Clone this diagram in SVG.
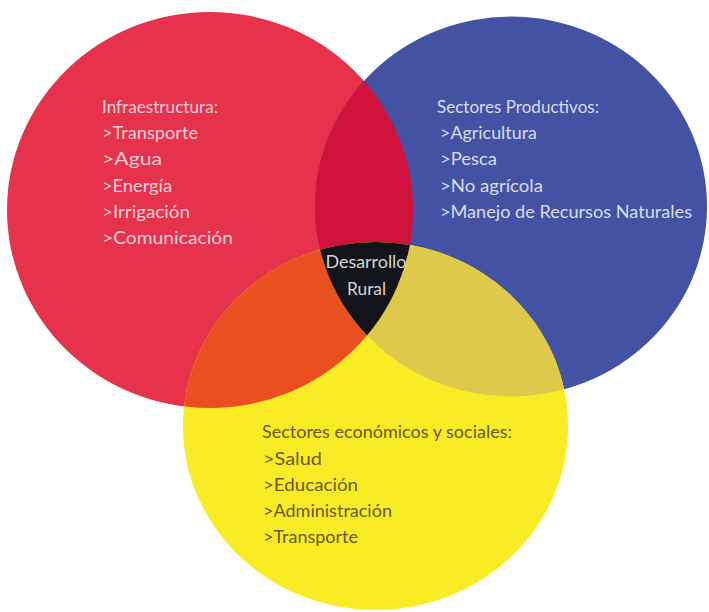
<svg xmlns="http://www.w3.org/2000/svg" width="709" height="612" viewBox="0 0 709 612">
  <defs>
    <style>
      .lbl { font-family: Lato, "Liberation Sans", "DejaVu Sans", sans-serif; font-size: 16.5px; }
      .on-red { fill: #F6CFD7; }
      .on-blue { fill: #D8DCF1; }
      .on-yellow { fill: #6A5A1C; }
      .center { fill: #D4D4D6; text-anchor: middle; }
    </style>
    <ellipse id="shape-red" cx="210" cy="210" rx="203" ry="198"/>
    <ellipse id="shape-blue" cx="511" cy="206.5" rx="196" ry="190"/>
    <ellipse id="shape-yellow" cx="375.5" cy="426" rx="192.5" ry="184"/>
    <clipPath id="clip-red"><use href="#shape-red"/></clipPath>
    <clipPath id="clip-blue"><use href="#shape-blue"/></clipPath>
    <clipPath id="clip-yellow"><use href="#shape-yellow"/></clipPath>
  </defs>

  <rect width="709" height="612" fill="#FFFFFF"/>

  <!-- the three sets -->
  <g id="infraestructura">
    <use href="#shape-red" fill="#E7324C"/>
  </g>
  <g id="sectores-productivos">
    <use href="#shape-blue" fill="#4452A3"/>
  </g>
  <g id="sectores-economicos">
    <use href="#shape-yellow" fill="#FAEC24"/>
  </g>

  <!-- pairwise overlaps -->
  <g id="overlaps">
    <g clip-path="url(#clip-red)"><use href="#shape-blue" fill="#D1123D"/></g>
    <g clip-path="url(#clip-red)"><use href="#shape-yellow" fill="#E94F1F"/></g>
    <g clip-path="url(#clip-blue)"><use href="#shape-yellow" fill="#DFC94B"/></g>
  </g>

  <!-- centre: all three -->
  <g id="desarrollo-rural">
    <g clip-path="url(#clip-red)"><g clip-path="url(#clip-blue)"><use href="#shape-yellow" fill="#131419"/></g></g>
    <text class="lbl center" x="366" y="268" textLength="81" lengthAdjust="spacingAndGlyphs">Desarrollo</text>
    <text class="lbl center" x="366.5" y="295" textLength="39" lengthAdjust="spacingAndGlyphs">Rural</text>
  </g>

  <!-- set labels -->
  <g id="infraestructura-labels" class="lbl on-red">
    <text x="102" y="112.5" textLength="116" lengthAdjust="spacingAndGlyphs">Infraestructura:</text>
    <text x="102" y="139" textLength="96" lengthAdjust="spacingAndGlyphs">&gt;Transporte</text>
    <text x="102" y="165" textLength="60" lengthAdjust="spacingAndGlyphs">&gt;Agua</text>
    <text x="102" y="191.5" textLength="70" lengthAdjust="spacingAndGlyphs">&gt;Energía</text>
    <text x="102" y="217.5" textLength="88" lengthAdjust="spacingAndGlyphs">&gt;Irrigación</text>
    <text x="102" y="243.5" textLength="131" lengthAdjust="spacingAndGlyphs">&gt;Comunicación</text>
  </g>
  <g id="productivos-labels" class="lbl on-blue">
    <text x="437" y="112.5" textLength="162" lengthAdjust="spacingAndGlyphs">Sectores Productivos:</text>
    <text x="440" y="139" textLength="97" lengthAdjust="spacingAndGlyphs">&gt;Agricultura</text>
    <text x="440" y="165" textLength="57" lengthAdjust="spacingAndGlyphs">&gt;Pesca</text>
    <text x="440" y="191.5" textLength="103" lengthAdjust="spacingAndGlyphs">&gt;No agrícola</text>
    <text x="440" y="217.5" textLength="252" lengthAdjust="spacingAndGlyphs">&gt;Manejo de Recursos Naturales</text>
  </g>
  <g id="economicos-labels" class="lbl on-yellow">
    <text x="262" y="438" textLength="250" lengthAdjust="spacingAndGlyphs">Sectores económicos y sociales:</text>
    <text x="263" y="464.5" textLength="59" lengthAdjust="spacingAndGlyphs">&gt;Salud</text>
    <text x="263" y="491" textLength="95" lengthAdjust="spacingAndGlyphs">&gt;Educación</text>
    <text x="263" y="517" textLength="129" lengthAdjust="spacingAndGlyphs">&gt;Administración</text>
    <text x="263" y="543" textLength="95" lengthAdjust="spacingAndGlyphs">&gt;Transporte</text>
  </g>
</svg>
